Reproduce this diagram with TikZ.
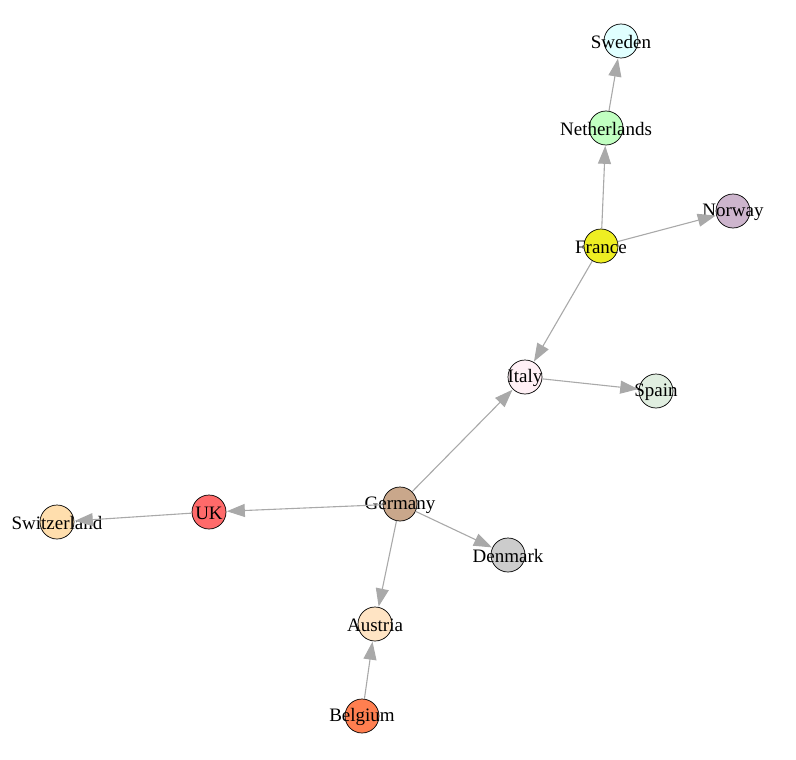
\documentclass[tikz,border=0pt]{standalone}
\usepackage{fontspec}
\setmainfont{Liberation Serif}
\usetikzlibrary{arrows.meta}
\definecolor{cSweden}{HTML}{E0FFFF}
\definecolor{cNether}{HTML}{C1FFC1}
\definecolor{cNorway}{HTML}{CDB5CD}
\definecolor{cFrance}{HTML}{EEEE22}
\definecolor{cItaly}{HTML}{FFF0F5}
\definecolor{cSpain}{HTML}{E0EEE0}
\definecolor{cGermany}{HTML}{C9A78B}
\definecolor{cUK}{HTML}{FF6A6A}
\definecolor{cSwitz}{HTML}{FFDEAD}
\definecolor{cDenmark}{HTML}{CCCCCC}
\definecolor{cAustria}{HTML}{FFE4C4}
\definecolor{cBelgium}{HTML}{FF7F50}
\definecolor{edgegray}{HTML}{A9A9A9}
\tikzset{
  vtx/.style={circle, draw=black, line width=0.7pt, minimum size=34pt, inner sep=0pt, fill=#1},
  lbl/.style={font=\fontsize{19}{20}\selectfont, inner sep=0pt, text=black, yshift=-1pt},
  edge/.style={draw=edgegray, line width=1.1pt, -{Triangle[length=18pt,width=13pt]}, shorten >=0.5pt}
}
\begin{document}
\begin{tikzpicture}[x=1pt,y=-1pt]
\useasboundingbox (0,0) rectangle (796,760);
\node[vtx=cSweden, label={[lbl]center:Sweden}] (sweden) at (621,41) {};
\node[vtx=cNether, label={[lbl]center:Netherlands}] (netherlands) at (606,128) {};
\node[vtx=cNorway, label={[lbl]center:Norway}] (norway) at (733,211) {};
\node[vtx=cFrance, label={[lbl]center:France}] (france) at (601,246) {};
\node[vtx=cItaly, label={[lbl]center:Italy}] (italy) at (525,377) {};
\node[vtx=cSpain, label={[lbl]center:Spain}] (spain) at (656,391) {};
\node[vtx=cGermany, label={[lbl]center:Germany}] (germany) at (400,504) {};
\node[vtx=cUK, label={[lbl]center:UK}] (uk) at (209,512) {};
\node[vtx=cSwitz, label={[lbl]center:Switzerland}] (switzerland) at (57,522) {};
\node[vtx=cDenmark, label={[lbl]center:Denmark}] (denmark) at (508,555) {};
\node[vtx=cAustria, label={[lbl]center:Austria}] (austria) at (375,624) {};
\node[vtx=cBelgium, label={[lbl]center:Belgium}] (belgium) at (362,716) {};
\draw[edge] (netherlands) -- (sweden);
\draw[edge] (france) -- (netherlands);
\draw[edge] (france) -- (norway);
\draw[edge] (france) -- (italy);
\draw[edge] (italy) -- (spain);
\draw[edge] (germany) -- (italy);
\draw[edge] (germany) -- (uk);
\draw[edge] (uk) -- (switzerland);
\draw[edge] (germany) -- (denmark);
\draw[edge] (germany) -- (austria);
\draw[edge] (belgium) -- (austria);
\end{tikzpicture}
\end{document}
